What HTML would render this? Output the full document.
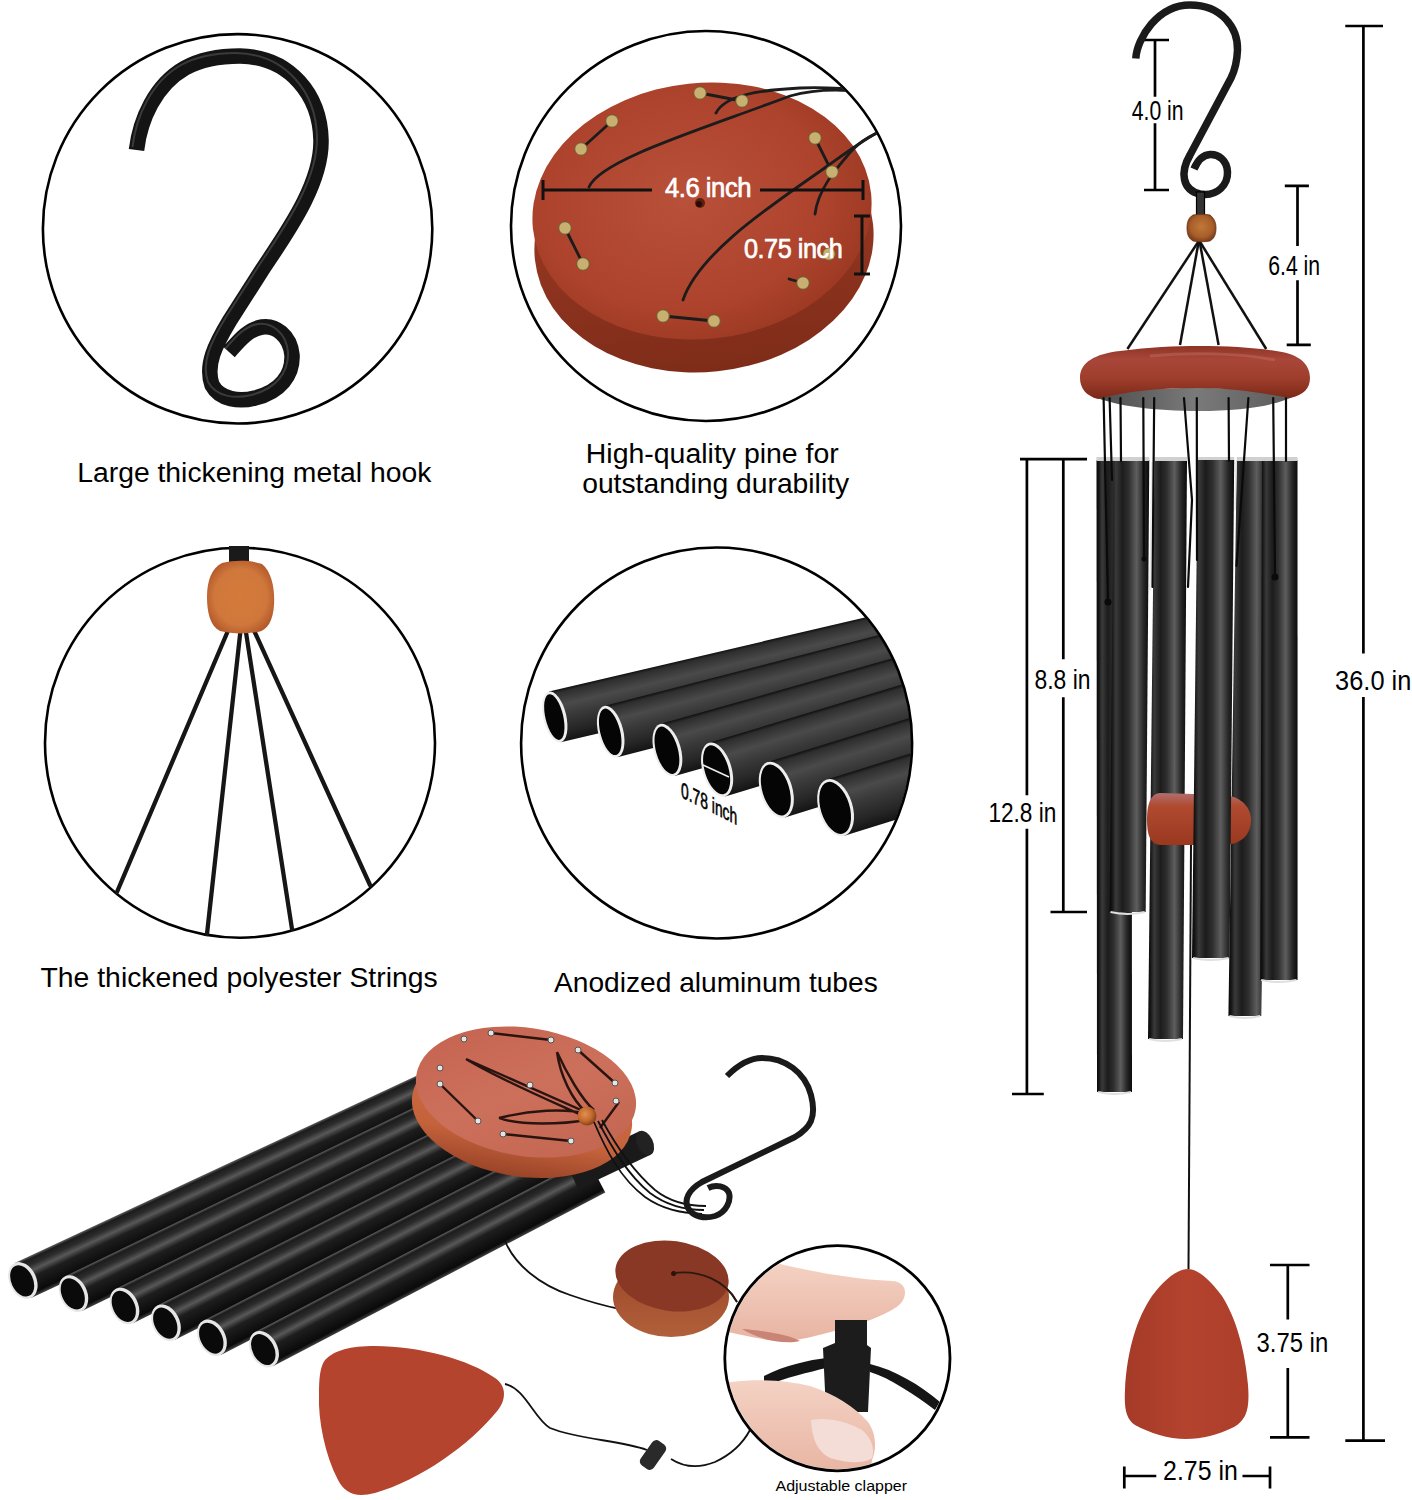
<!DOCTYPE html>
<html><head><meta charset="utf-8">
<style>
html,body{margin:0;padding:0;background:#fff;width:1412px;height:1500px;overflow:hidden}
svg{display:block}
text{font-family:"Liberation Sans",sans-serif}
</style></head>
<body>
<svg width="1412" height="1500" viewBox="0 0 1412 1500">
<defs>
  <radialGradient id="woodTop" cx="45%" cy="45%" r="60%">
    <stop offset="0" stop-color="#b9503a"/>
    <stop offset="0.7" stop-color="#ad432c"/>
    <stop offset="1" stop-color="#9a3822"/>
  </radialGradient>
  <linearGradient id="woodSide" x1="0" y1="0" x2="0" y2="1">
    <stop offset="0" stop-color="#a53e28"/>
    <stop offset="1" stop-color="#7e2c19"/>
  </linearGradient>
  <radialGradient id="bead" cx="40%" cy="40%" r="60%">
    <stop offset="0" stop-color="#e09050"/>
    <stop offset="0.6" stop-color="#c46a2e"/>
    <stop offset="1" stop-color="#8a4418"/>
  </radialGradient>
  <linearGradient id="tubeL" x1="0" y1="0" x2="0" y2="1">
    <stop offset="0" stop-color="#101010"/>
    <stop offset="0.06" stop-color="#2e2e2e"/>
    <stop offset="0.3" stop-color="#4a4a4a"/>
    <stop offset="0.5" stop-color="#3a3a3a"/>
    <stop offset="0.8" stop-color="#262626"/>
    <stop offset="1" stop-color="#141414"/>
  </linearGradient>
  <linearGradient id="tubeB" x1="0" y1="0" x2="0" y2="1">
    <stop offset="0" stop-color="#606060"/>
    <stop offset="0.07" stop-color="#1c1c1c"/>
    <stop offset="0.22" stop-color="#2c2c2c"/>
    <stop offset="0.36" stop-color="#585858"/>
    <stop offset="0.52" stop-color="#1e1e1e"/>
    <stop offset="0.9" stop-color="#0a0a0a"/>
    <stop offset="1" stop-color="#444444"/>
  </linearGradient>
  <linearGradient id="tubeV" x1="0" y1="0" x2="1" y2="0">
    <stop offset="0" stop-color="#080808"/>
    <stop offset="0.06" stop-color="#141414"/>
    <stop offset="0.16" stop-color="#3a3a3a"/>
    <stop offset="0.32" stop-color="#1c1c1c"/>
    <stop offset="0.48" stop-color="#2e2e2e"/>
    <stop offset="0.68" stop-color="#5e5e5e"/>
    <stop offset="0.86" stop-color="#262626"/>
    <stop offset="1" stop-color="#0a0a0a"/>
  </linearGradient>
  <radialGradient id="sail" cx="50%" cy="45%" r="65%">
    <stop offset="0" stop-color="#b4482c"/>
    <stop offset="1" stop-color="#983820"/>
  </radialGradient>
  <linearGradient id="ringG" x1="0" y1="0" x2="0" y2="1">
    <stop offset="0" stop-color="#8e3424"/>
    <stop offset="0.25" stop-color="#a8463a"/>
    <stop offset="0.6" stop-color="#a03e2c"/>
    <stop offset="1" stop-color="#7a2818"/>
  </linearGradient>
  <radialGradient id="bead3" cx="50%" cy="50%" r="55%">
    <stop offset="0" stop-color="#d47a3a"/>
    <stop offset="0.7" stop-color="#d0783c"/>
    <stop offset="1" stop-color="#b45a2c"/>
  </radialGradient>
  <linearGradient id="sailR" x1="0" y1="0" x2="1" y2="0">
    <stop offset="0" stop-color="#a43a28"/>
    <stop offset="0.5" stop-color="#b4432e"/>
    <stop offset="1" stop-color="#ac3e2a"/>
  </linearGradient>
  <radialGradient id="bead6" cx="50%" cy="45%" r="55%">
    <stop offset="0" stop-color="#c07838"/>
    <stop offset="0.7" stop-color="#a85e2a"/>
    <stop offset="1" stop-color="#7e401a"/>
  </radialGradient>
  <linearGradient id="underG" x1="0" y1="0" x2="1" y2="0">
    <stop offset="0" stop-color="#4a4a4a"/>
    <stop offset="0.5" stop-color="#7a7a7a"/>
    <stop offset="1" stop-color="#5a5a5a"/>
  </linearGradient>
  <linearGradient id="puckG" x1="0" y1="0" x2="0" y2="1">
    <stop offset="0" stop-color="#b07070"/>
    <stop offset="0.25" stop-color="#b04a30"/>
    <stop offset="1" stop-color="#9a3820"/>
  </linearGradient>
  <linearGradient id="discTop" x1="0" y1="0" x2="1" y2="1">
    <stop offset="0" stop-color="#c4624e"/>
    <stop offset="0.5" stop-color="#cc705c"/>
    <stop offset="1" stop-color="#c06450"/>
  </linearGradient>
  <linearGradient id="discSide" x1="0" y1="0" x2="0" y2="1">
    <stop offset="0" stop-color="#d06e48"/>
    <stop offset="0.7" stop-color="#c4623c"/>
    <stop offset="1" stop-color="#9a4428"/>
  </linearGradient>
  <linearGradient id="puckSide" x1="0" y1="0" x2="0" y2="1">
    <stop offset="0" stop-color="#9a4428"/>
    <stop offset="1" stop-color="#b0603a"/>
  </linearGradient>
  <linearGradient id="skin" x1="0" y1="0" x2="0" y2="1">
    <stop offset="0" stop-color="#f4d2c4"/>
    <stop offset="1" stop-color="#e8b4a2"/>
  </linearGradient>
  <clipPath id="c2"><circle cx="706" cy="226" r="194"/></clipPath>
  <clipPath id="c4"><circle cx="716.6" cy="743" r="194.5"/></clipPath>
</defs>
<g id="g1">
<circle cx="237.6" cy="228.8" r="194.7" fill="none" stroke="#000" stroke-width="2.6"/>
<path d="M136.5,150 C140,120 155,85 185,68 C205,57 225,56 240,56 C290,57 320,95 321,140 C322,185 285,235 262,270 L230,320 C215,345 205,365 212,385 C220,400 240,402 255,398 C280,392 293,375 292,355 C290,335 275,325 262,327 C248,329 238,342 229,352" fill="none" stroke="#141414" stroke-width="15.5"/>
<mask id="hm1"><path d="M136.5,150 C140,120 155,85 185,68 C205,57 225,56 240,56 C290,57 320,95 321,140 C322,185 285,235 262,270 L230,320 C215,345 205,365 212,385 C220,400 240,402 255,398 C280,392 293,375 292,355 C290,335 275,325 262,327 C248,329 238,342 229,352" fill="none" stroke="#fff" stroke-width="13"/></mask>
<path d="M136.5,150 C140,120 155,85 185,68 C205,57 225,56 240,56 C290,57 320,95 321,140 C322,185 285,235 262,270 L230,320 C215,345 205,365 212,385 C220,400 240,402 255,398 C280,392 293,375 292,355 C290,335 275,325 262,327 C248,329 238,342 229,352" transform="translate(-4 -3)" fill="none" stroke="#5a5a5a" stroke-width="2" mask="url(#hm1)" opacity="0.55"/>
<text transform="translate(77.2 482) scale(1.0115 1)" font-size="28" fill="#000" >Large thickening metal hook</text>
</g>
<g id="g2">
  <circle cx="706" cy="226" r="195" fill="none" stroke="#000" stroke-width="2.6"/>
  <g clip-path="url(#c2)">
    <ellipse cx="704" cy="242" rx="170" ry="130" transform="rotate(-6 704 242)" fill="url(#woodSide)"/>
    <ellipse cx="702" cy="211" rx="170" ry="128" transform="rotate(-6 702 211)" fill="url(#woodTop)"/>
    <circle cx="700" cy="203" r="5" fill="#5a2010"/>
    <circle cx="699" cy="204" r="3" fill="#2a0a04"/>
    <g stroke="#1c1c1c" stroke-width="2.8" fill="none" stroke-linecap="round">
      <path d="M700,93 L742,101"/>
      <path d="M612,121 L581,149"/>
      <path d="M815,138 L832,172"/>
      <path d="M565,228 L583,264"/>
      <path d="M789,279 L803,283"/>
      <path d="M663,316 L714,321"/>
      <path d="M589,187 C600,160 700,130 790,96 C830,85 870,92 900,98"/>
      <path d="M716,113 C725,95 760,90 800,88 C840,86 880,92 900,92"/>
      <path d="M683,300 C700,250 780,200 826,167 C850,150 870,135 900,120"/>
      <path d="M815,214 C818,190 835,170 848,155 C860,140 875,132 900,125"/>
    </g>
    <g fill="#c8b070" stroke="#6a5a30" stroke-width="1">
      <circle cx="700" cy="93" r="6.3"/><circle cx="742" cy="101" r="6.3"/>
      <circle cx="612" cy="121" r="6.3"/><circle cx="581" cy="149" r="6.3"/>
      <circle cx="815" cy="138" r="6.3"/><circle cx="832" cy="172" r="6.3"/>
      <circle cx="565" cy="228" r="6.3"/><circle cx="583" cy="264" r="6.3"/>
      <circle cx="803" cy="283" r="6.3"/><circle cx="829" cy="254" r="6.3"/>
      <circle cx="663" cy="316" r="6.3"/><circle cx="714" cy="321" r="6.3"/>
    </g>
  </g>
  <g stroke="#111" stroke-width="3">
    <line x1="543" y1="190" x2="652" y2="190"/>
    <line x1="760" y1="190" x2="863" y2="190"/>
    <line x1="543" y1="180" x2="543" y2="200"/>
    <line x1="863" y1="180" x2="863" y2="200"/>
    <line x1="862" y1="216" x2="862" y2="274"/>
    <line x1="854" y1="216" x2="870" y2="216"/>
    <line x1="854" y1="274" x2="870" y2="274"/>
  </g>
<text transform="translate(665 197) scale(0.95 1)" font-size="27" fill="#fff" letter-spacing="-0.5" stroke="#fff" stroke-width="0.7">4.6 inch</text>
<text transform="translate(744 258) scale(0.935 1)" font-size="27" fill="#fff" letter-spacing="-0.5" stroke="#fff" stroke-width="0.7">0.75 inch</text>
<text transform="translate(585.8 462.8) scale(1.046 1)" font-size="27.2" fill="#000" >High-quality pine for</text>
<text transform="translate(582.2 493) scale(1.039 1)" font-size="27.2" fill="#000" >outstanding durability</text>
</g>
<g id="g3">
<circle cx="240" cy="742.7" r="195" fill="none" stroke="#000" stroke-width="2.6"/>
<rect x="229" y="546" width="20" height="20" fill="#1a1a1a"/>
<g stroke="#161616" stroke-width="4.3" stroke-linecap="round"><line x1="230" y1="626" x2="117" y2="892"/><line x1="241" y1="626" x2="207" y2="934"/><line x1="245" y1="626" x2="292" y2="929"/><line x1="252" y1="626" x2="370" y2="885"/></g>
<path d="M222,563 C235,560 250,560 262,564 C272,572 275,590 274,605 C273,620 268,630 258,632 C245,634 232,634 220,631 C210,626 207,612 207,597 C207,580 212,568 222,563 Z" fill="url(#bead3)"/>
<text transform="translate(40.5 987) scale(1.039 1)" font-size="27.3" fill="#000" >The thickened polyester Strings</text>
</g>
<g id="g4">
<g clip-path="url(#c4)">
<g transform="translate(554.8 716.9) rotate(-13.2)">
<rect x="0" y="-26" width="420" height="52" fill="url(#tubeL)"/>
<ellipse cx="0" cy="0" rx="11.5" ry="26" fill="#eeeeee"/>
<ellipse cx="-0.5" cy="0" rx="8.9" ry="23.4" fill="#050505"/>
</g>
<g transform="translate(610.7 731.7) rotate(-14.5)">
<rect x="0" y="-26.5" width="420" height="53.0" fill="url(#tubeL)"/>
<ellipse cx="0" cy="0" rx="12.5" ry="26.5" fill="#eeeeee"/>
<ellipse cx="-0.5" cy="0" rx="9.9" ry="23.9" fill="#050505"/>
</g>
<g transform="translate(667.4 750.1) rotate(-15.8)">
<rect x="0" y="-27" width="420" height="54" fill="url(#tubeL)"/>
<ellipse cx="0" cy="0" rx="13.5" ry="27" fill="#eeeeee"/>
<ellipse cx="-0.5" cy="0" rx="10.9" ry="24.4" fill="#050505"/>
</g>
<g transform="translate(717.1 769.6) rotate(-16.8)">
<rect x="0" y="-28" width="420" height="56" fill="url(#tubeL)"/>
<ellipse cx="0" cy="0" rx="14.5" ry="28" fill="#eeeeee"/>
<ellipse cx="-0.5" cy="0" rx="11.9" ry="25.4" fill="#050505"/>
</g>
<g transform="translate(776.3 789.8) rotate(-17.3)">
<rect x="0" y="-29" width="420" height="58" fill="url(#tubeL)"/>
<ellipse cx="0" cy="0" rx="16" ry="29" fill="#eeeeee"/>
<ellipse cx="-0.5" cy="0" rx="13.4" ry="26.4" fill="#050505"/>
</g>
<g transform="translate(835.6 807.7) rotate(-17.3)">
<rect x="0" y="-29.5" width="420" height="59.0" fill="url(#tubeL)"/>
<ellipse cx="0" cy="0" rx="17" ry="29.5" fill="#eeeeee"/>
<ellipse cx="-0.5" cy="0" rx="14.4" ry="26.9" fill="#050505"/>
</g>
</g>
<circle cx="716.6" cy="743" r="195.5" fill="none" stroke="#000" stroke-width="2.6"/>
<line x1="703" y1="765" x2="729" y2="777" stroke="#eee" stroke-width="1.5"/>
<text transform="translate(681 797) skewY(26.5) scale(0.63 1)" font-size="22" stroke="#000" stroke-width="0.6">0.78 inch</text>
<text transform="translate(554 991.9) scale(1.02 1)" font-size="27.6" fill="#000" >Anodized aluminum tubes</text>
</g>
<g id="g6">
<g stroke="#000" stroke-width="2.7" fill="none">
<path d="M1363.4,26 V653.4 M1363.4,697 V1440.6 M1345.3,26 H1383 M1345.3,1440.6 H1385"/>
<path d="M1155,40 V96.7 M1155,123.3 V190 M1144,40 H1169 M1144,190 H1169"/>
<path d="M1297.5,185.8 V246 M1297.5,280.2 V344.8 M1284.8,185.8 H1308.9 M1286.7,344.8 H1310.8"/>
<path d="M1026.9,459.2 V795.3 M1026.9,828.7 V1094 M1012,1094 H1043.8 M1020,459.2 H1087 M1063.3,459.2 V659.3 M1063.3,697.3 V912 M1050.5,912 H1087"/>
<path d="M1287.8,1265 V1319.5 M1287.8,1368 V1437.3 M1270,1265 H1309.5 M1270,1437.3 H1309.5"/>
<path d="M1124.3,1466.5 V1488.6 M1124.3,1476 H1156.3 M1242.5,1476 H1270 M1270,1466.5 V1488.6"/>
</g>
<text transform="translate(1335.093 690) scale(0.907 1)" font-size="28" fill="#000">36.0 in</text>
<text transform="translate(1268.24 274.5) scale(0.758 1)" font-size="28" fill="#000">6.4 in</text>
<text transform="translate(1131.74 119.7) scale(0.758 1)" font-size="28" fill="#000">4.0 in</text>
<text transform="translate(1034.48 688.7) scale(0.818 1)" font-size="28" fill="#000">8.8 in</text>
<text transform="translate(988.38 822) scale(0.809 1)" font-size="28" fill="#000">12.8 in</text>
<text transform="translate(1256.45 1352.2) scale(0.854 1)" font-size="28" fill="#000">3.75 in</text>
<text transform="translate(1163.11 1480.4) scale(0.889 1)" font-size="28" fill="#000">2.75 in</text>
<path d="M1135.8,58.5 C1137,38 1158,5 1190,5 C1222,5 1238,28 1237.5,50 C1237,62 1235,70 1231,78 L1190,155 C1180,172 1182,190 1200,194 C1218,197 1228,184 1227.5,172 C1227,160 1218,154 1210,154.5 C1202,155 1197,162 1194,169" fill="none" stroke="#1a1a1a" stroke-width="7.5"/>
<rect x="1196.5" y="192" width="8" height="24" fill="#333" stroke="#000" stroke-width="1.2"/>
<g stroke="#111" stroke-width="2.5"><line x1="1198.8" y1="241" x2="1127.4" y2="349"/><line x1="1198.8" y1="241" x2="1180" y2="345"/><line x1="1199.5" y1="241" x2="1218.6" y2="345"/><line x1="1199.5" y1="241" x2="1266.2" y2="349"/></g>
<path d="M1193,215 C1198,214 1205,214 1210,215 C1215,219 1216,224 1216,228 C1216,233 1215,238 1210,241 C1205,242 1198,242 1193,241 C1188,238 1187,233 1187,228 C1187,223 1188,218 1193,215 Z" fill="url(#bead6)" stroke="#6a3010" stroke-width="0.8"/>
<path d="M1092,396 C1120,390 1160,388 1199,388 C1235,388 1270,390 1298,394 C1280,405 1245,411 1199,411 C1155,411 1115,406 1092,396 Z" fill="url(#underG)"/>
<path d="M1080,378 C1080,362 1095,354 1120,351 C1150,347 1175,346 1199,346 C1230,346 1260,348 1282,352 C1302,356 1310,366 1310,378 C1310,388 1304,395 1290,398 C1262,393 1232,388 1199,388 C1162,388 1125,391 1098,399 C1086,396 1080,388 1080,378 Z" fill="url(#ringG)"/>
<path d="M1150,356 C1190,352 1240,353 1275,360" fill="none" stroke="#c07060" stroke-width="3" opacity="0.45"/>
<path d="M1096.5,460 L1131.5,460 L1132,1092 L1097,1092 Z" fill="url(#tubeV)"/>
<path d="M1096.5,459 L1131.5,459" stroke="#d0d0d0" stroke-width="4"/>
<path d="M1098,1092 Q1114.5,1096 1131,1092" stroke="#e0e0e0" stroke-width="2.2" fill="none"/>
<path d="M1113.8,460 L1149.3,460 L1145.7,912 L1109.5,912 Z" fill="url(#tubeV)"/>
<path d="M1113.8,459 L1149.3,459" stroke="#d0d0d0" stroke-width="4"/>
<path d="M1110.5,912 Q1127.6,916 1144.7,912" stroke="#e0e0e0" stroke-width="2.2" fill="none"/>
<path d="M1154.5,460 L1187,460 L1183,1039 L1148,1039 Z" fill="url(#tubeV)"/>
<path d="M1154.5,459 L1187,459" stroke="#d0d0d0" stroke-width="4"/>
<path d="M1149,1039 Q1165.5,1043 1182,1039" stroke="#e0e0e0" stroke-width="2.2" fill="none"/>
<path d="M1236.8,460 L1270,460 L1261.3,1016 L1228.4,1016 Z" fill="url(#tubeV)"/>
<path d="M1236.8,459 L1270,459" stroke="#d0d0d0" stroke-width="4"/>
<path d="M1229.4,1016 Q1244.85,1020 1260.3,1016" stroke="#e0e0e0" stroke-width="2.2" fill="none"/>
<path d="M1262,460 L1297.5,460 L1297.6,980 L1260.2,980 Z" fill="url(#tubeV)"/>
<path d="M1262,459 L1297.5,459" stroke="#d0d0d0" stroke-width="4"/>
<path d="M1261.2,980 Q1278.9,984 1296.6,980" stroke="#e0e0e0" stroke-width="2.2" fill="none"/>
<path d="M1160,793 L1225,795 C1242,797 1251,808 1251,820 C1251,834 1242,844 1225,845 L1160,845 C1150,844 1147,835 1147,820 C1147,805 1150,794 1160,793 Z" fill="url(#puckG)"/>
<path d="M1197.8,459 L1234.2,459" stroke="#d0d0d0" stroke-width="4"/>
<path d="M1197.8,460 L1234.2,460 L1229.6,958 L1192,958 Z" fill="url(#tubeV)"/>
<path d="M1193,958 Q1210.8,962 1228.6,958" stroke="#e0e0e0" stroke-width="2.2" fill="none"/>
<path d="M1152,462 L1150,590" stroke="#e8e8e8" stroke-width="1.5"/>
<path d="M1236,462 L1235,510" stroke="#e8e8e8" stroke-width="1.5"/>
<g stroke="#0a0a0a" stroke-width="2.2" fill="none" stroke-linecap="round">
<path d="M1103.6,398 L1108,602"/>
<path d="M1109.6,398 L1112,480"/>
<path d="M1120.5,398 L1121,461"/>
<path d="M1143.3,398 L1144,559"/>
<path d="M1154.2,398 L1152.5,587"/>
<path d="M1196.8,398 L1197,560"/>
<path d="M1228.6,398 L1229,461"/>
<path d="M1248.4,398 L1236.5,566"/>
<path d="M1273.2,398 L1275,577"/>
<path d="M1286,398 L1286,461"/>
<path d="M1184,398 L1192,500 L1188,587"/>
</g>
<g fill="#0a0a0a"><circle cx="1108" cy="602" r="3.5"/><circle cx="1275" cy="577" r="3.5"/><circle cx="1144" cy="559" r="2.5"/></g>
<line x1="1191" y1="845" x2="1188.5" y2="1269" stroke="#111" stroke-width="2"/>
<path d="M1188,1269 C1198,1269 1210,1280 1222,1296 C1236,1318 1245,1350 1248,1385 C1250,1410 1246,1420 1234,1427 C1218,1435 1202,1439 1186,1439 C1168,1439 1150,1433 1135,1425 C1126,1419 1124,1408 1125,1390 C1127,1350 1137,1318 1152,1296 C1164,1280 1177,1269 1188,1269 Z" fill="url(#sailR)"/>
</g>
<g id="g5">
<g transform="translate(22.9 1280.5) rotate(-25)">
<rect x="0" y="-19.3" width="470" height="38.6" fill="url(#tubeB)"/>
<ellipse cx="0" cy="0" rx="13.5" ry="19.3" fill="#e6e6e6"/>
<ellipse cx="-0.8" cy="0" rx="10.8" ry="16.5" fill="#0a0a0a"/>
</g>
<g transform="translate(73.5 1293.6) rotate(-25.8)">
<rect x="0" y="-19.3" width="480" height="38.6" fill="url(#tubeB)"/>
<ellipse cx="0" cy="0" rx="13.5" ry="19.3" fill="#e6e6e6"/>
<ellipse cx="-0.8" cy="0" rx="10.8" ry="16.5" fill="#0a0a0a"/>
</g>
<g transform="translate(124.5 1306) rotate(-26.3)">
<rect x="0" y="-19.3" width="470" height="38.6" fill="url(#tubeB)"/>
<ellipse cx="0" cy="0" rx="13.5" ry="19.3" fill="#e6e6e6"/>
<ellipse cx="-0.8" cy="0" rx="10.8" ry="16.5" fill="#0a0a0a"/>
</g>
<g transform="translate(166 1322.8) rotate(-26.8)">
<rect x="0" y="-19.3" width="450" height="38.6" fill="url(#tubeB)"/>
<ellipse cx="0" cy="0" rx="13.5" ry="19.3" fill="#e6e6e6"/>
<ellipse cx="-0.8" cy="0" rx="10.8" ry="16.5" fill="#0a0a0a"/>
</g>
<g transform="translate(212 1337.8) rotate(-27.2)">
<rect x="0" y="-19.3" width="420" height="38.6" fill="url(#tubeB)"/>
<ellipse cx="0" cy="0" rx="13.5" ry="19.3" fill="#e6e6e6"/>
<ellipse cx="-0.8" cy="0" rx="10.8" ry="16.5" fill="#0a0a0a"/>
</g>
<g transform="translate(264 1349.2) rotate(-27.6)">
<rect x="0" y="-19.3" width="375" height="38.6" fill="url(#tubeB)"/>
<ellipse cx="0" cy="0" rx="13.5" ry="19.3" fill="#e6e6e6"/>
<ellipse cx="-0.8" cy="0" rx="10.8" ry="16.5" fill="#0a0a0a"/>
</g>
<g transform="translate(645 1143) rotate(-25.3)"><rect x="-80" y="-13" width="80" height="26" fill="#1a1a1a"/><ellipse cx="0" cy="0" rx="8" ry="13" fill="#222"/></g>
<ellipse cx="522" cy="1112" rx="111" ry="64.5" transform="rotate(9 522 1112)" fill="url(#discSide)"/>
<ellipse cx="526" cy="1092" rx="111" ry="64" transform="rotate(9 526 1092)" fill="url(#discTop)"/>
<g stroke="#2a1410" stroke-width="2.4" fill="none">
<path d="M491,1033 L551,1040 M578,1050 L615,1083 M440,1084 L478,1121 M503,1134 L571,1141 M619,1102 L600,1128 M466,1059 L590,1114 M466,1059 C500,1080 560,1105 590,1119 M557,1052 C560,1075 572,1100 586,1112 M557,1052 C566,1072 582,1100 594,1110 M499,1118 C530,1110 565,1108 588,1114 M499,1118 C520,1126 565,1124 586,1120"/>
</g>
<g fill="#e4e4e4" stroke="#555" stroke-width="1">
<circle cx="464" cy="1039" r="3"/>
<circle cx="491" cy="1033" r="3"/>
<circle cx="551" cy="1040" r="3"/>
<circle cx="440" cy="1068" r="3"/>
<circle cx="440" cy="1084" r="3"/>
<circle cx="478" cy="1121" r="3"/>
<circle cx="578" cy="1050" r="3"/>
<circle cx="615" cy="1083" r="3"/>
<circle cx="616" cy="1101" r="3"/>
<circle cx="503" cy="1134" r="3"/>
<circle cx="571" cy="1141" r="3"/>
<circle cx="530" cy="1085" r="3"/>
</g>
<circle cx="587" cy="1116" r="9.5" fill="url(#bead)"/>
<path d="M594,1122 C606,1150 620,1178 645,1197 C662,1209 680,1213 702,1214 M598,1121 C612,1148 628,1175 650,1193 C666,1205 684,1210 704,1210 M602,1120 C616,1146 632,1170 655,1190 C670,1202 688,1206 706,1206" fill="none" stroke="#111" stroke-width="1.8"/>
<path d="M727,1076 C740,1063 752,1058 762,1058 C785,1058 805,1072 811,1095 C817,1118 810,1128 795,1137 L702,1182 C688,1190 684,1200 688,1208 C693,1217 705,1219 715,1216 C727,1212 731,1200 729,1193 C726,1186 716,1184 708,1188" fill="none" stroke="#1a1a1a" stroke-width="6"/>
<g stroke="#111" stroke-width="1.8" fill="none">
<path d="M505,1241 C515,1265 540,1285 570,1295 C590,1302 605,1306 620,1309"/>
<path d="M674,1273 C700,1270 725,1280 737,1302"/>
<path d="M505,1384 C525,1388 535,1420 550,1428 C580,1440 620,1440 647,1450 M671,1459 C685,1468 700,1468 715,1462 C730,1455 742,1445 750,1430"/>
</g>
<ellipse cx="671" cy="1297" rx="58" ry="40" fill="url(#puckSide)"/>
<ellipse cx="672" cy="1276" rx="57" ry="35" transform="rotate(8 672 1276)" fill="#8a3826"/>
<circle cx="673.6" cy="1273.5" r="2.5" fill="#2a1208"/>
<path d="M674,1273 C700,1270 725,1280 737,1302" fill="none" stroke="#2a1a10" stroke-width="1.8"/>
<rect x="645" y="1440" width="16" height="30" rx="5" transform="rotate(35 653 1455)" fill="#2a2a2a"/>
<path d="M325,1360 C335,1350 350,1346 375,1346 C420,1346 470,1360 495,1378 C507,1386 506,1400 498,1410 C470,1445 420,1480 375,1493 C355,1498 345,1493 338,1480 C325,1455 318,1420 319,1395 C319,1378 320,1367 325,1360 Z" fill="#b5442e"/>
<clipPath id="c5"><circle cx="837.4" cy="1358.2" r="111"/></clipPath>
<g clip-path="url(#c5)">
<path d="M700,1262 L780,1264 C810,1271 850,1279 892,1281 C900,1281 905,1286 905,1292 C905,1300 900,1306 890,1311 C875,1319 855,1326 838,1330 C815,1336 800,1341 780,1341 C760,1340 740,1334 700,1326 Z" fill="url(#skin)"/>
<path d="M742,1329 C760,1340 785,1345 800,1341 C790,1335 760,1330 742,1329 Z" fill="#c98476"/>
<path d="M764,1376 C785,1365 810,1360 826,1358 L826,1368 C810,1372 785,1378 764,1386 Z M870,1364 C895,1370 920,1385 940,1402 L935,1410 C915,1395 890,1378 870,1372 Z" fill="#151515"/>
<path d="M835,1320 L867,1320 L867,1345 L871,1348 L868,1412 L826,1412 L823,1348 L835,1343 Z" fill="#1c1c1c"/>
<path d="M700,1382 L731,1382 C760,1378 790,1381 810,1386 C835,1394 855,1407 868,1422 C876,1433 877,1448 872,1460 L870,1475 L700,1475 Z" fill="url(#skin)"/>
<path d="M811,1420 C825,1417 845,1420 862,1430 C872,1438 875,1450 872,1458 C866,1463 850,1464 830,1458 C818,1452 812,1440 811,1420 Z" fill="#f3ddd6"/>
</g>
<circle cx="837.4" cy="1358.2" r="112.6" fill="none" stroke="#000" stroke-width="2.8"/>
<text transform="translate(775.5 1491.1) scale(1.046 1)" font-size="15.3" fill="#000" >Adjustable clapper</text>
</g>
</svg>
</body></html>
